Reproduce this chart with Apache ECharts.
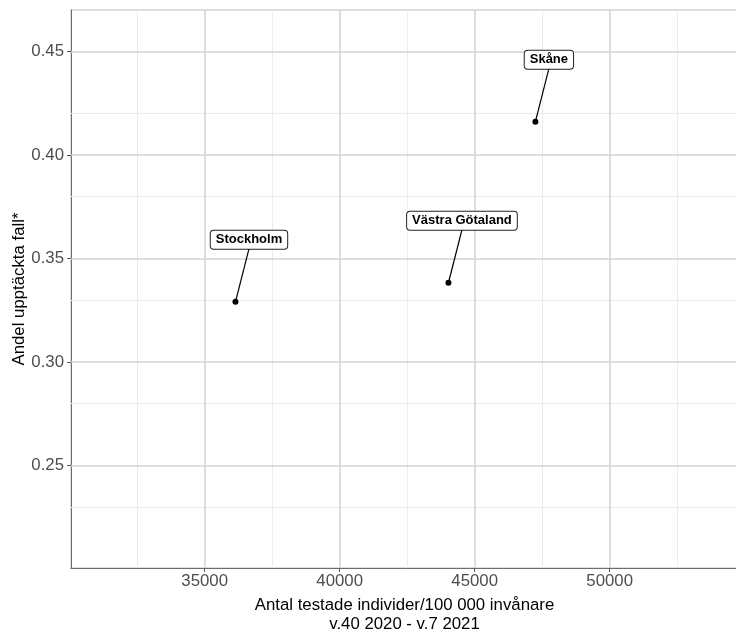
<!DOCTYPE html>
<html>
<head>
<meta charset="utf-8">
<script src="https://cdn.jsdelivr.net/npm/echarts@6/dist/echarts.min.js"></script>
<style>
html,body{margin:0;padding:0;background:#fff;}
#chart{width:736px;height:630px;}
</style>
</head>
<body>
<div id="chart"></div>
<script>
const regions = ['Stockholm', 'Västra Götaland', 'Skåne'];
const testsPer100k = [36140, 44030, 47250];
const shareDetected = [0.3291, 0.3383, 0.4161];
const xTicks = [35000, 40000, 45000, 50000];
const xMinor = [32500, 37500, 42500, 47500, 52500];
const yTicks = [0.25, 0.30, 0.35, 0.40, 0.45];
const yMinor = [0.225, 0.275, 0.325, 0.375, 0.425];
const xTitle = 'Antal testade individer/100 000 invånare\nv.40 2020 - v.7 2021';
const yTitle = 'Andel upptäckta fall*';

const FONT = "'Liberation Sans', Arial, sans-serif";
const chart = echarts.init(document.getElementById('chart'), null, {renderer: 'canvas'});

const gridLines = [];
xMinor.forEach(v => gridLines.push({xAxis: v, lineStyle: {color: '#ececec', width: 1, type: 'solid'}}));
yMinor.forEach(v => gridLines.push({yAxis: v, lineStyle: {color: '#ececec', width: 1, type: 'solid'}}));
xTicks.forEach(v => gridLines.push({xAxis: v, lineStyle: {color: '#d3d3d3', width: 1.5, type: 'solid'}}));
yTicks.forEach(v => gridLines.push({yAxis: v, lineStyle: {color: '#d3d3d3', width: 1.5, type: 'solid'}}));

const pts = regions.map((r, i) => [testsPer100k[i], shareDetected[i], r]);

chart.setOption({
  animation: false,
  backgroundColor: '#fff',
  grid: {left: 71, right: -2, top: 10, bottom: 62, containLabel: false, outerBoundsMode: 'none',
    show: true, borderColor: '#d3d3d3', borderWidth: 1.5},
  xAxis: {
    type: 'value', min: 30048, max: 54755,
    axisLine: {show: true, lineStyle: {color: '#6e6e6e', width: 1}},
    axisTick: {show: true, customValues: xTicks, length: 4, lineStyle: {color: '#555'}},
    axisLabel: {customValues: xTicks, color: '#4d4d4d', fontSize: 16.8, fontFamily: FONT, margin: 5,
      formatter: v => String(Math.round(v))},
    splitLine: {show: false},
    name: xTitle, nameLocation: 'middle', nameGap: 28, nameMoveOverlap: false,
    nameTextStyle: {color: '#000', fontSize: 16.8, fontFamily: FONT, lineHeight: 19}
  },
  yAxis: {
    type: 'value', min: 0.2005, max: 0.47005,
    axisLine: {show: true, lineStyle: {color: '#6e6e6e', width: 1}},
    axisTick: {show: true, customValues: yTicks, length: 4, lineStyle: {color: '#555'}},
    axisLabel: {customValues: yTicks, color: '#4d4d4d', fontSize: 16.8, fontFamily: FONT, margin: 7,
      formatter: v => Number(v).toFixed(2)},
    splitLine: {show: false},
    name: yTitle, nameLocation: 'middle', nameGap: 43, nameMoveOverlap: false,
    nameTextStyle: {color: '#000', fontSize: 16.8, fontFamily: FONT}
  },
  series: [
    {
      type: 'scatter', data: [], z: 1, silent: true,
      markLine: {silent: true, symbol: 'none', label: {show: false}, animation: false, data: gridLines}
    },
    {
      type: 'custom', z: 5,
      data: pts,
      renderItem: function (params, api) {
        const p = api.coord([api.value(0), api.value(1)]);
        const name = regions[params.dataIndex];
        const dx = 13.5, dy = -62;
        return {
          type: 'group',
          children: [
            {type: 'line', shape: {x1: p[0], y1: p[1], x2: p[0] + dx, y2: p[1] + dy + 9}, style: {stroke: '#000', lineWidth: 1.2}},
            {type: 'circle', shape: {cx: p[0], cy: p[1], r: 3}, style: {fill: '#000'}},
            {type: 'text', x: p[0] + dx, y: p[1] + dy,
              style: {text: name, align: 'center', verticalAlign: 'middle', fill: '#000',
                font: 'bold 13px ' + FONT, backgroundColor: '#fff', borderColor: '#222', borderWidth: 1,
                borderRadius: 3, padding: [3, 5, 2, 5]}}
          ]
        };
      }
    }
  ]
});
</script>
</body>
</html>
